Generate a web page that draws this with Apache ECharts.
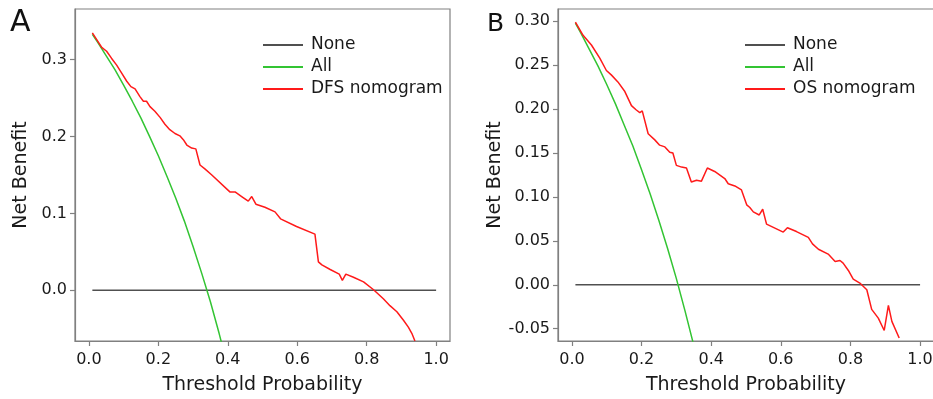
<!DOCTYPE html>
<html>
<head>
<meta charset="utf-8">
<script src="https://cdn.jsdelivr.net/npm/echarts@6/dist/echarts.min.js"></script>
<style>html,body{margin:0;padding:0;background:#fff;}#c{width:933px;height:399px;}</style>
</head>
<body>
<div id="c"></div>
<script>
// ---- Data ----
const xTicks = [0, 0.2, 0.4, 0.6, 0.8, 1.0];
const yTicksA = [0, 0.1, 0.2, 0.3];
const yTicksB = [-0.05, 0, 0.05, 0.10, 0.15, 0.20, 0.25, 0.30];

const noneX = [0.01, 1.0];
const noneY = [0, 0];

// Panel A
const allXA = [0.01, 0.025, 0.05, 0.075, 0.1, 0.125, 0.15, 0.175, 0.2, 0.225, 0.25, 0.275, 0.3, 0.325, 0.35, 0.375, 0.4];
const allYA = [0.333, 0.323, 0.305, 0.287, 0.267, 0.246, 0.224, 0.200, 0.175, 0.148, 0.120, 0.090, 0.057, 0.022, -0.015, -0.056, -0.100];
const dfsX = [0.01, 0.037, 0.051, 0.065, 0.080, 0.094, 0.109, 0.121, 0.133, 0.147, 0.157, 0.166, 0.176, 0.190, 0.205, 0.219, 0.233, 0.248, 0.262, 0.272, 0.282, 0.296, 0.308, 0.320, 0.334, 0.354, 0.406, 0.421, 0.440, 0.459, 0.469, 0.481, 0.507, 0.536, 0.552, 0.598, 0.651, 0.661, 0.671, 0.695, 0.721, 0.730, 0.740, 0.762, 0.791, 0.819, 0.848, 0.867, 0.887, 0.891, 0.906, 0.920, 0.930, 0.939];
const dfsY = [0.335, 0.316, 0.311, 0.302, 0.293, 0.283, 0.272, 0.265, 0.262, 0.252, 0.246, 0.246, 0.239, 0.233, 0.225, 0.216, 0.209, 0.204, 0.201, 0.196, 0.189, 0.185, 0.184, 0.163, 0.158, 0.150, 0.128, 0.128, 0.122, 0.116, 0.122, 0.112, 0.108, 0.102, 0.093, 0.083, 0.073, 0.037, 0.033, 0.027, 0.021, 0.013, 0.021, 0.017, 0.011, 0.001, -0.011, -0.020, -0.028, -0.030, -0.039, -0.048, -0.056, -0.066];

// Panel B
const allXB = [0.01, 0.025, 0.05, 0.075, 0.1, 0.125, 0.15, 0.175, 0.2, 0.225, 0.25, 0.275, 0.3, 0.325, 0.35, 0.375];
const allYB = [0.298, 0.287, 0.268, 0.249, 0.228, 0.206, 0.182, 0.158, 0.131, 0.103, 0.073, 0.041, 0.007, -0.030, -0.069, -0.112];
const osX = [0.01, 0.032, 0.056, 0.080, 0.099, 0.113, 0.132, 0.152, 0.171, 0.185, 0.195, 0.202, 0.219, 0.238, 0.252, 0.267, 0.281, 0.290, 0.300, 0.315, 0.329, 0.343, 0.358, 0.372, 0.389, 0.410, 0.439, 0.449, 0.468, 0.487, 0.502, 0.511, 0.521, 0.538, 0.548, 0.559, 0.607, 0.619, 0.645, 0.679, 0.691, 0.708, 0.736, 0.756, 0.770, 0.779, 0.794, 0.808, 0.827, 0.847, 0.861, 0.880, 0.897, 0.909, 0.919, 0.940];
const osY = [0.299, 0.284, 0.273, 0.258, 0.244, 0.239, 0.231, 0.220, 0.204, 0.199, 0.196, 0.198, 0.172, 0.165, 0.159, 0.157, 0.151, 0.150, 0.136, 0.134, 0.133, 0.117, 0.119, 0.118, 0.133, 0.129, 0.121, 0.115, 0.1125, 0.108, 0.091, 0.088, 0.083, 0.0795, 0.086, 0.069, 0.060, 0.065, 0.0606, 0.054, 0.0466, 0.0405, 0.035, 0.0265, 0.0276, 0.0246, 0.0163, 0.0064, 0.002, -0.0057, -0.028, -0.038, -0.052, -0.0235, -0.0417, -0.0606];

// ---- Build chart ----
const zip = (xs, ys) => xs.map((x, i) => [x, ys[i]]);
const FONT = 'DejaVu Sans';
const GRAY = '#808080';
const COL_NONE = '#505050', COL_ALL = '#33c433', COL_MODEL = '#ff1a1a';

function xAxis(gi) {
  return {
    type: 'value', gridIndex: gi, min: -0.04, max: 1.04,
    axisLine: { show: true, onZero: false, lineStyle: { color: GRAY, width: 1.2 } },
    axisTick: { show: true, inside: false, length: 5, customValues: xTicks, lineStyle: { color: GRAY, width: 1.2 } },
    axisLabel: { customValues: xTicks, margin: 11, color: '#1a1a1a', fontFamily: FONT, fontSize: 16, formatter: v => v.toFixed(1) },
    splitLine: { show: false },
    name: 'Threshold Probability', nameLocation: 'middle', nameGap: 35,
    nameTextStyle: { color: '#1a1a1a', fontFamily: FONT, fontSize: 19 }
  };
}
function yAxis(gi, min, max, ticks, dec, gap) {
  return {
    type: 'value', gridIndex: gi, min: min, max: max,
    axisLine: { show: true, onZero: false, lineStyle: { color: GRAY, width: 1.2 } },
    axisTick: { show: true, inside: false, length: 5, customValues: ticks, lineStyle: { color: GRAY, width: 1.2 } },
    axisLabel: { customValues: ticks, margin: 8, color: '#1a1a1a', fontFamily: FONT, fontSize: 16, formatter: v => v.toFixed(dec) },
    splitLine: { show: false },
    name: 'Net Benefit', nameLocation: 'middle', nameGap: gap, nameRotate: 90,
    nameTextStyle: { color: '#1a1a1a', fontFamily: FONT, fontSize: 19 }
  };
}
function line(name, gi, data, color) {
  return {
    type: 'line', name: name, xAxisIndex: gi, yAxisIndex: gi, data: data,
    showSymbol: false, symbol: 'none', clip: true, smooth: false,
    lineStyle: { color: color, width: 1.5 }, itemStyle: { color: color },
    emphasis: { disabled: true }, silent: true
  };
}
function legend(left, names) {
  return {
    orient: 'vertical', left: left, top: 29, itemGap: 0, itemWidth: 40, itemHeight: 2,
    icon: 'rect', selectedMode: false, data: names,
    textStyle: { fontFamily: FONT, fontSize: 17, color: '#1a1a1a', lineHeight: 22, padding: [0, 0, 0, 3] }
  };
}

const chart = echarts.init(document.getElementById('c'), null, { renderer: 'canvas' });
chart.setOption({
  animation: false,
  backgroundColor: '#fff',
  grid: [
    { left: 75, top: 9, width: 375, height: 332, show: true, borderColor: GRAY, borderWidth: 1.2, backgroundColor: 'transparent', containLabel: false, outerBoundsMode: 'none' },
    { left: 558, top: 9, width: 376, height: 332, show: true, borderColor: GRAY, borderWidth: 1.2, backgroundColor: 'transparent', containLabel: false, outerBoundsMode: 'none' }
  ],
  xAxis: [xAxis(0), xAxis(1)],
  yAxis: [yAxis(0, -0.066, 0.366, yTicksA, 1, 44), yAxis(1, -0.064, 0.314, yTicksB, 2, 48)],
  legend: [legend(258, ['None', 'All', 'DFS nomogram']), legend(740, ['None', 'All', 'OS nomogram'])],
  series: [
    line('None', 0, zip(noneX, noneY), COL_NONE),
    line('All', 0, zip(allXA, allYA), COL_ALL),
    line('DFS nomogram', 0, zip(dfsX, dfsY), COL_MODEL),
    line('None', 1, zip(noneX, noneY), COL_NONE),
    line('All', 1, zip(allXB, allYB), COL_ALL),
    line('OS nomogram', 1, zip(osX, osY), COL_MODEL)
  ],
  graphic: [
    { type: 'text', left: 10, top: 8, style: { text: 'A', font: '30px "DejaVu Sans"', fill: '#111' } },
    { type: 'text', left: 487, top: 12, style: { text: 'B', font: '25px "DejaVu Sans"', fill: '#111' } }
  ]
});
</script>
</body>
</html>
